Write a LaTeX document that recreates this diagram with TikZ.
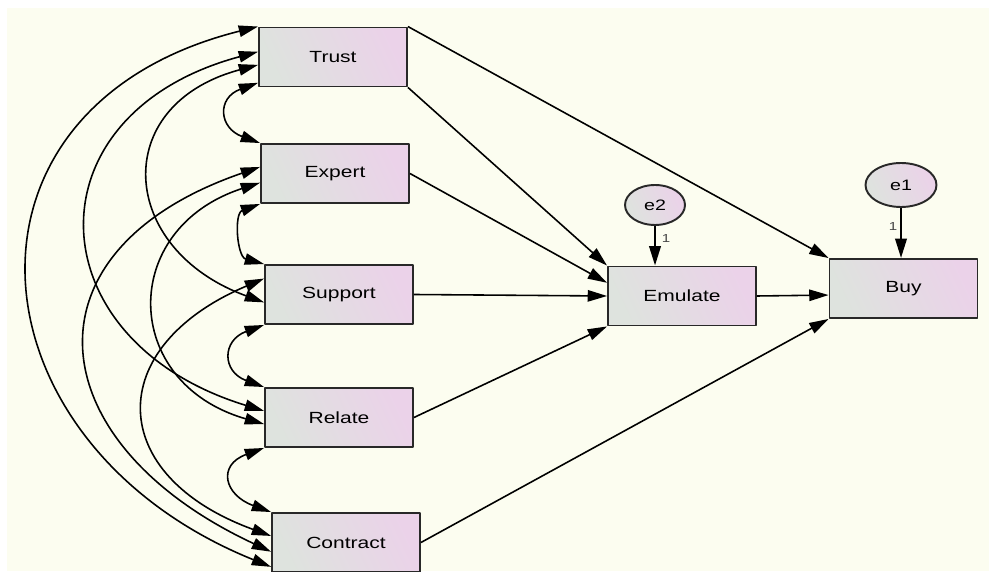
\documentclass[tikz,border=0pt]{standalone}
\usepackage{fontspec}
\newfontfamily\amosfont[FakeStretch=1.3]{Liberation Sans}
\usetikzlibrary{arrows.meta,shapes.geometric}
\definecolor{bgcream}{RGB}{252,253,240}
\definecolor{boxgray}{RGB}{222,227,222}
\definecolor{boxpink}{RGB}{235,210,233}
\definecolor{boxline}{RGB}{40,40,40}
\definecolor{labelgray}{RGB}{70,70,70}

\begin{document}
\begin{tikzpicture}[x=0.02cm, y=0.02cm, >={Triangle[length=11pt,width=6.5pt]},
	font=\amosfont\fontsize{9.2}{11}\selectfont, line join=round,
	obs/.style={draw=boxline, line width=1.1pt, left color=boxgray, right color=boxpink,
		shading angle=115, minimum width=2.96cm, minimum height=1.18cm, inner sep=0pt},
	err/.style={ellipse, draw=boxline, line width=1.1pt, left color=boxgray, right color=boxpink,
		shading angle=115, inner sep=0pt, font=\amosfont\fontsize{8.6}{10}\selectfont},
	reg/.style={->, line width=0.9pt},
	cov/.style={<->, line width=0.9pt},
	wlabel/.style={text=labelgray, inner sep=0pt, font=\amosfont\fontsize{6.6}{8}\selectfont}]
	\useasboundingbox (0,0) rectangle (989,571);
	\fill[bgcream] (7,0) rectangle (989,563);
	%\draw[gray!40] (0,0) grid[step=50] (989,571);
	% observed variables
	\node[obs] (Trust) at (333,514) {Trust};
	\node[obs] (Expert) at (335,397.5) {Expert};
	\node[obs] (Support) at (339,276.5) {Support};
	\node[obs] (Relate) at (339,153.5) {Relate};
	\node[obs] (Contract) at (346,28.5) {Contract};
	\node[obs] (Emulate) at (682,275) {Emulate};
	\node[obs] (Buy) at (903.5,282.5) {Buy};
	% errors
	\node[err, minimum width=1.2cm, minimum height=0.8cm] (e2) at (655,366) {e2};
	\node[err, minimum width=1.42cm, minimum height=0.88cm] (e1) at (901,386) {e1};
	\draw[->, line width=1.3pt] (e2) -- (e2 |- Emulate.north);
	\draw[->, line width=1.3pt] (e1) -- (e1 |- Buy.north);
	\node[wlabel] (w2) at (666,332) {1};
	\node[wlabel] (w1) at (893,344) {1};
	% paths
	\draw[reg] (Trust.north east) -- (Buy.north west);
	\draw[reg] (Trust.south east) -- (Emulate.north west);
	\draw[reg] (Expert.east) -- (Emulate.170);
	\draw[reg] (Support.east) -- (Emulate.west);
	\draw[reg] (Relate.east) -- (Emulate.south west);
	\draw[reg] (Contract.east) -- (Buy.south west);
	\draw[reg] (Emulate.east) -- (Buy.185);
	% covariances
	\draw[cov] (Trust.199.4) .. controls +(200:44) and +(160:44) .. (Expert.north west);
	\draw[cov] (Expert.south west) .. controls +(200:28) and +(165:28) .. (Support.north west);
	\draw[cov] (Support.south west) .. controls +(200:45) and +(160:45) .. (Relate.north west);
	\draw[cov] (Relate.south west) .. controls +(200:50) and +(160:50) .. (Contract.north west);
	\draw[cov] (Trust.186.2) .. controls +(195:155) and +(160:155) .. (Support.186.6);
	\draw[cov] (Trust.176.1) .. controls +(195:240) and +(163:240) .. (Relate.175.7);
	\draw[cov] (Trust.north west) .. controls +(194:330) and +(158:330) .. (Contract.198.3);
	\draw[cov] (Expert.187.3) .. controls +(198:149) and +(164:149) .. (Relate.185.8);
	\draw[cov] (Expert.175) .. controls +(199:257) and +(155:257) .. (Contract.187.3);
	\draw[cov] (Support.168.9) .. controls +(203:176) and +(160:176) .. (Contract.175.7);
\end{tikzpicture}
\end{document}
